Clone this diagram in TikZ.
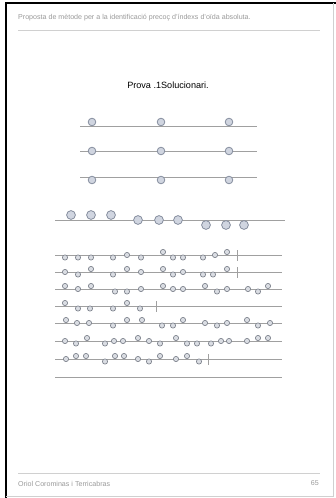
\documentclass[tikz,border=0pt]{standalone}
\usepackage{fontspec}
\setmainfont{Liberation Sans}
\definecolor{circfill}{HTML}{D0D5E0}
\definecolor{circdraw}{HTML}{858D9E}
\definecolor{smallfill}{HTML}{DADDE3}
\definecolor{smalldraw}{HTML}{80858F}
\definecolor{staffc}{HTML}{A0A0A0}
\definecolor{txtgray}{HTML}{9A9A9A}
\definecolor{rulec}{HTML}{D0D0D0}
\tikzset{
  staffline/.style={draw=staffc, line width=1pt},
  bigdot/.style={fill=circfill, draw=circdraw, line width=0.8pt},
  smalldot/.style={fill=smallfill, draw=smalldraw, line width=0.7pt},
  pagetext/.style={text=txtgray, inner sep=0pt, font=\fontsize{7.1}{8}\selectfont},
}
\newcommand{\Hh}{-3}
\newcommand{\Mm}{0}
\newcommand{\Ll}{2.5}
\newcommand{\mystaff}[2]{%
  \draw[staffline] (55,#1) -- (282,#1);
  \foreach \xx/\oo in {#2} {\draw[smalldot] (\xx,#1+\oo) circle[radius=2.6pt];}%
}
\begin{document}
\begin{tikzpicture}[x=1pt,y=-1pt]
\useasboundingbox (0,0) rectangle (336,498);
\fill[white] (0,0) rectangle (336,498);
% page frame
\draw[black, line width=1.4pt] (6,498) -- (6,3) -- (336,3);
\draw[rulec, line width=0.6pt] (333,3) -- (333,496) -- (6,496);
% header / footer
\node[pagetext, anchor=west] (hdr) at (18,18) {Proposta de mètode per a la identificació precoç d'índexs d'oïda absoluta.};
\draw[rulec, line width=0.8pt] (18,30.5) -- (320,30.5);
\draw[rulec, line width=0.8pt] (18,473) -- (320,473);
\node[pagetext, anchor=west] (ftr) at (18,483.5) {Oriol Corominas i Terricabras};
\node[pagetext, anchor=east] (pg) at (319,483.5) {65};
% title
\node[inner sep=0pt, font=\fontsize{9.1}{10}\selectfont] (title) at (168,85) {Prova .1Solucionari.};
% three simple rows
\foreach \yy/\oo in {126/-4, 151/0, 177/3} {
  \draw[staffline] (80,\yy) -- (257,\yy);
  \foreach \xx in {92,161,229} {\draw[bigdot] (\xx,\yy+\oo) circle[radius=3.8pt];}
}
% row with three groups
\draw[staffline] (55,220) -- (285,220);
\foreach \xx in {71,91,111} {\draw[bigdot] (\xx,215) circle[radius=4.4pt];}
\foreach \xx in {138,159,178} {\draw[bigdot] (\xx,220) circle[radius=4.4pt];}
\foreach \xx in {206,226,244} {\draw[bigdot] (\xx,225) circle[radius=4.4pt];}
% staff rows
\mystaff{255}{65/\Ll,78/\Ll,91/\Ll, 113/\Ll,127/\Mm,141/\Ll, 163/\Hh,173/\Ll,183/\Ll, 203/\Ll,215/\Mm,227/\Hh}
\draw[staffline] (237,250) -- (237,261);
\mystaff{272}{65/\Mm,78/\Ll,91/\Hh, 113/\Ll,127/\Hh,141/\Mm, 163/\Hh,173/\Ll,183/\Mm, 203/\Ll,213/\Ll,227/\Hh}
\draw[staffline] (237,267) -- (237,278);
\mystaff{289}{65/\Hh,78/\Mm,91/\Hh, 115/\Ll,127/\Ll,141/\Mm, 163/\Hh,173/\Mm,183/\Mm, 205/\Hh,217/\Ll,227/\Mm, 248/\Mm,258/\Ll,268/\Hh}
\mystaff{306}{65/\Hh,78/\Ll,90/\Ll, 113/\Ll,127/\Hh,140/\Ll}
\draw[staffline] (156,301) -- (156,312);
\mystaff{323}{66/\Hh,77/\Mm,89/\Mm, 113/\Ll,127/\Hh,142/\Hh, 162/\Ll,173/\Ll,183/\Hh, 205/\Mm,217/\Ll,227/\Mm, 247/\Hh,258/\Ll,270/\Mm}
\mystaff{341}{65/\Mm,76/\Ll,87/\Hh, 105/\Ll,114/\Mm,123/\Mm, 138/\Hh,149/\Mm,160/\Ll, 176/\Hh,187/\Ll,197/\Ll, 211/\Ll,221/\Mm,229/\Mm, 247/\Mm,258/\Hh,268/\Hh}
\mystaff{359}{66/\Mm,76/\Hh,86/\Hh, 105/\Ll,115/\Hh,124/\Hh, 138/\Mm,149/\Ll,160/\Hh, 176/\Mm,187/\Hh,199/\Ll}
\draw[staffline] (208,354) -- (208,365);
\draw[staffline] (55,377) -- (282,377);
\end{tikzpicture}
\end{document}
